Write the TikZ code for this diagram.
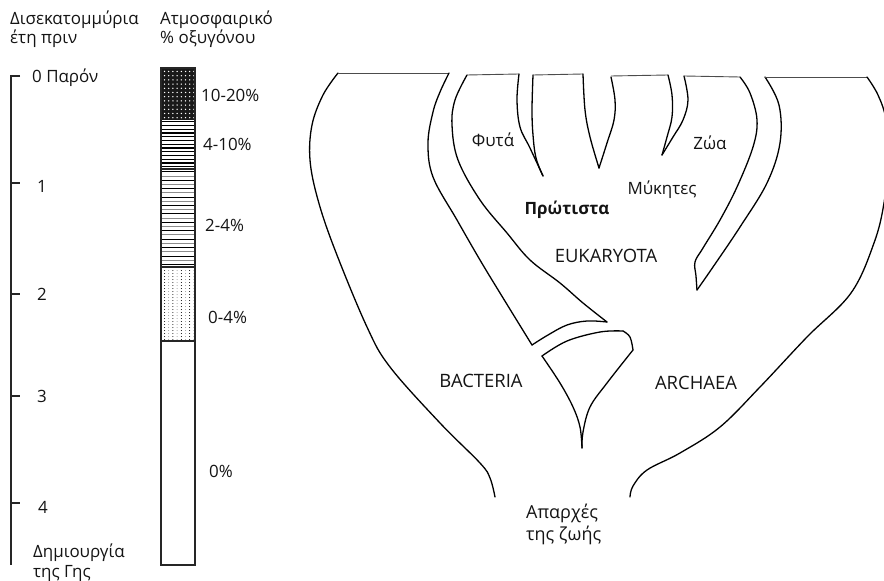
\documentclass[tikz,border=0pt]{standalone}
\usepackage{fontspec}
\setmainfont{Open Sans}
\begin{document}
\begin{tikzpicture}[x=1bp,y=-1bp,
  treeline/.style={line width=1.3bp,line join=round,line cap=round},
  topline/.style={line width=0.9bp,black!70},
  lab/.style={font=\fontsize{17}{20}\selectfont,text=black!92,inner sep=0pt},
  tlab/.style={font=\fontsize{18.5}{22}\selectfont,text=black!92,inner sep=0pt},
  axisline/.style={line width=1.2bp,black!85}]
\useasboundingbox (0,0) rectangle (884,581);
\clip (0,0) rectangle (884,581);

% ---------- headers ----------
\node[lab,anchor=base west] (h1) at (10,25) {Δισεκατομμύρια};
\node[lab,anchor=base west] (h2) at (10,44) {έτη πριν};
\node[lab,anchor=base west] (h3) at (160,25) {Ατμοσφαιρικό};
\node[lab,anchor=base west] (h4) at (160,44) {\% οξυγόνου};

% ---------- time axis ----------
\draw[axisline] (20,76) -- (11,76) -- (11,565);
\foreach \yy in {183,294,396,503} \draw[axisline] (11,\yy) -- (20,\yy);
\node[lab,anchor=base west] (t0) at (32,83) {0 Παρόν};
\node[lab,anchor=base west] (t1) at (37,193) {1};
\node[lab,anchor=base west] (t2) at (37,300) {2};
\node[lab,anchor=base west] (t3) at (37,402) {3};
\node[lab,anchor=base west] (t4) at (38,513) {4};
\node[lab,anchor=base west] (t5) at (33,557) {Δημιουργία};
\node[lab,anchor=base west] (t6) at (33,577) {της Γης};

% ---------- oxygen column ----------
\fill[black!90] (161,68) rectangle (195,120);
\foreach \i in {0,...,7} \foreach \j in {0,...,11}
  \fill[white] (164.5+\i*4.2,71.5+\j*4.2) circle (0.75);
\foreach \k in {0,...,12}
  \draw[line width=1.1bp] (161,121.8+\k*3.75) -- (195,121.8+\k*3.75);
\foreach \k in {0,...,11}
  \draw[line width=1bp] (161,172+\k*8.4) -- (195,172+\k*8.4);
\foreach \k in {0,...,10}
  \draw[line width=1bp,black!45] (161,176.2+\k*8.4) -- (195,176.2+\k*8.4);
\foreach \i in {0,2,4,6} \foreach \j in {0,...,23}
  \fill[black] (164.5+\i*4.2,270.5+\j*3) circle (0.5);
\foreach \i in {1,3,5,7} \foreach \j in {0,...,23}
  \fill[black!40] (164.5+\i*4.2,270.5+\j*3) circle (0.5);
\draw[line width=1.3bp,black!85] (161,68) rectangle (195,565);
\foreach \yy in {169,267,341} \draw[line width=2.2bp,black!85] (161,\yy) -- (195,\yy);
\node[lab,anchor=base west] (o1) at (201,102) {10-20\%};
\node[lab,anchor=base west] (o2) at (203,151) {4-10\%};
\node[lab,anchor=base west] (o3) at (205,232) {2-4\%};
\node[lab,anchor=base west] (o4) at (208,323) {0-4\%};
\node[lab,anchor=base west] (o5) at (209,477) {0\%};

% ---------- tree ----------
% bacteria outer left
\draw[treeline] plot[smooth,tension=0.6] coordinates {(495,497) (490,478) (480,463) (440,423) (390,367) (367,327) (335,250) (318,200) (310,160) (312,125) (323,95) (338,73)};
\draw[topline] (338,73) -- (449,73);
% bacteria right edge - gap - eukaryota left edge
\draw[treeline] plot[smooth,tension=0.6] coordinates {(449,73) (440,92) (433,112) (428,143) (433,177) (457,220) (480,260) (500,293) (532,345)};
\draw[treeline] plot[smooth,tension=0.6] coordinates {(532,345) (548,335) (567,325) (587,321) (607,322)};
\draw[treeline] plot[smooth,tension=0.6] coordinates {(607,322) (583,303) (560,283) (530,260) (507,233) (480,200) (458,160) (452,125) (455,100) (467,75)};
\draw[topline] (467,75) -- (519,74);
% plants
\draw[treeline] plot[smooth,tension=0.6] coordinates {(519,74) (517,100) (520,127) (530,148) (543,176)};
\draw[treeline] plot[smooth,tension=0.6] coordinates {(543,176) (536,158) (533,135) (532,110) (533,75)};
\draw[topline] (533,75) -- (583,74);
% protists / fungi spike
\draw[treeline] plot[smooth,tension=0.6] coordinates {(583,74) (585,110) (590,137) (599,168)};
\draw[treeline] plot[smooth,tension=0.6] coordinates {(599,168) (607,143) (614,120) (615,100) (611,77)};
\draw[topline] (611,76) -- (668,75);
% fungi / animals spike
\draw[treeline] plot[smooth,tension=0.6] coordinates {(668,75) (672,95) (672,117) (667,137) (662,155)};
\draw[treeline] plot[smooth,tension=0.6] coordinates {(662,155) (673,137) (683,120) (688,100) (684,76)};
\draw[topline] (684,76) -- (740,77);
% eukaryota right edge - archaea left edge
\draw[treeline] plot[smooth,tension=0.6] coordinates {(740,77) (750,93) (757,120) (753,147) (737,187) (720,220) (703,248) (695,262) (696,276) (697,290)};
\draw[treeline] plot[smooth,tension=0.6] coordinates {(697,290) (713,267) (740,227) (767,183) (780,143) (779,105) (765,77)};
\draw[topline] (765,77) -- (867,77);
% archaea outer
\draw[treeline] plot[smooth,tension=0.6] coordinates {(867,77) (878,95) (886,120) (888,160) (884,203) (874,243) (851,293) (807,337) (760,387) (720,427) (680,453) (647,470) (633,486) (630,497)};
% lower stem
\draw[treeline] plot[smooth,tension=0.6] coordinates {(582,448) (580,427) (573,407) (560,383) (542,356)};
\draw[treeline] plot[smooth,tension=0.6] coordinates {(542,356) (567,341) (600,332) (623,331)};
\draw[treeline] plot[smooth,tension=0.6] coordinates {(623,331) (630,337) (633,350)};
\draw[treeline] plot[smooth,tension=0.6] coordinates {(633,350) (607,383) (590,407) (583,432) (582,448)};

% tree labels
\node[lab] (fyta) at (493,140) {Φυτά};
\node[lab] (zoa) at (710,143) {Ζώα};
\node[lab] (myk) at (662,190) {Μύκητες};
\node[lab,font=\fontsize{17}{20}\selectfont\bfseries] (prot) at (567,210) {Πρώτιστα};
\node[tlab] (euk) at (606,256) {EUKARYOTA};
\node[tlab] (bact) at (481,381) {BACTERIA};
\node[tlab] (arch) at (696,383) {ARCHAEA};
\node[lab,font=\fontsize{18}{21}\selectfont,anchor=base west] (ap1) at (526,518) {Απαρχές};
\node[lab,font=\fontsize{18}{21}\selectfont,anchor=base west] (ap2) at (526,540) {της ζωής};
\end{tikzpicture}
\end{document}
